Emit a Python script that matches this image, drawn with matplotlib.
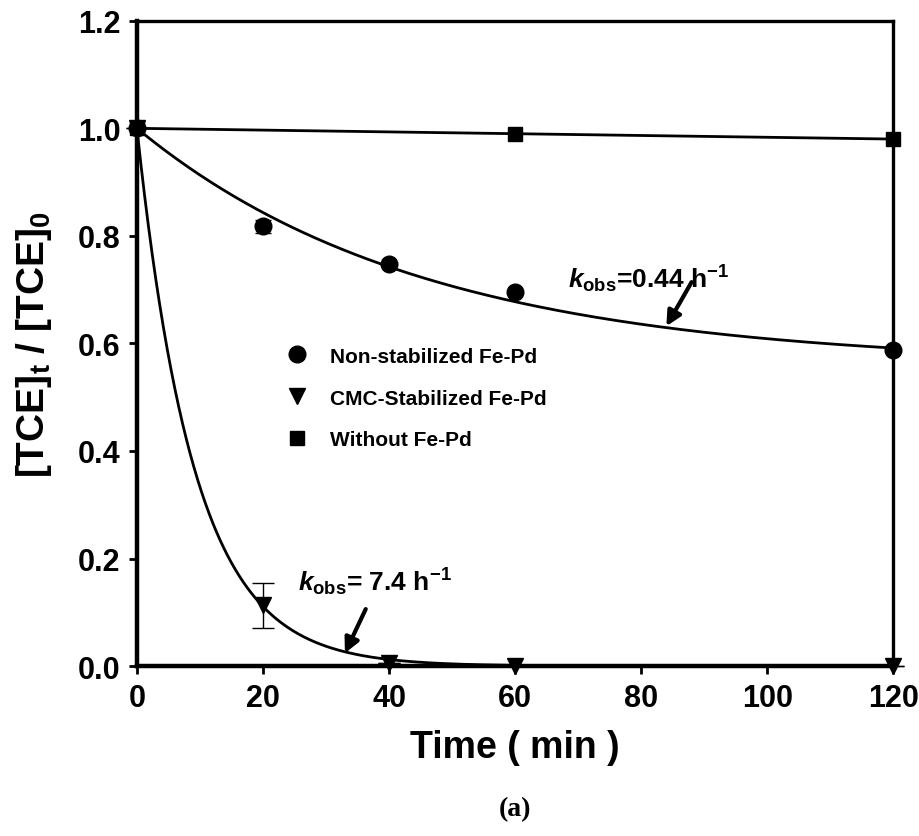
import numpy as np
import matplotlib
matplotlib.use("Agg")
import matplotlib.pyplot as plt
from matplotlib.lines import Line2D

# measured data
t_non = [0, 20, 40, 60, 120]
c_non = [1.0, 0.818, 0.748, 0.695, 0.588]
e_non = [0.0, 0.012, 0.0, 0.0, 0.0]

t_cmc = [0, 20, 40, 60, 120]
c_cmc = [1.0, 0.113, 0.005, 0.0, 0.0]
e_cmc = [0.0, 0.042, 0.0, 0.0, 0.0]

t_blank = [0, 60, 120]
c_blank = [1.0, 0.99, 0.98]

# fitted model parameters
non_plateau, non_k = 0.56, 0.022      # c = a + (1-a) exp(-k t)
cmc_k = 0.11                          # c = exp(-k t)
blank_slope = -0.02 / 120

plt.rcParams['font.family'] = ['Liberation Sans', 'DejaVu Sans']
plt.rcParams['font.weight'] = 'bold'
plt.rcParams['mathtext.fontset'] = 'custom'
plt.rcParams['mathtext.rm'] = 'Liberation Sans:bold'
plt.rcParams['mathtext.bf'] = 'Liberation Sans:bold'
plt.rcParams['mathtext.it'] = 'Liberation Sans:bold:italic'

fig = plt.figure(figsize=(9.19, 8.37), dpi=100)
ax = fig.add_axes([0.149, 0.203, 0.823, 0.771])

tt = np.linspace(0, 120, 400)
ax.plot(tt, non_plateau + (1 - non_plateau) * np.exp(-non_k * tt), color='black', lw=2)
ax.plot(tt, np.exp(-cmc_k * tt), color='black', lw=2)
ax.plot(tt, 1.0 + blank_slope * tt, color='black', lw=2)

ax.errorbar(t_non, c_non, yerr=e_non, fmt='o', color='black', ms=12,
            capsize=6, elinewidth=1, clip_on=False, zorder=5)
ax.errorbar(t_cmc, c_cmc, yerr=e_cmc, fmt='v', color='black', ms=12,
            capsize=8, elinewidth=1, clip_on=False, zorder=5)
ax.plot(t_blank, c_blank, 's', color='black', ms=10.5, clip_on=False, zorder=5)

ax.set_xlim(0, 120)
ax.set_ylim(0, 1.2)
ax.set_xticks([0, 20, 40, 60, 80, 100, 120])
ax.set_yticks([0.0, 0.2, 0.4, 0.6, 0.8, 1.0, 1.2])
ax.set_yticklabels(['0.0', '0.2', '0.4', '0.6', '0.8', '1.0', '1.2'])
ax.tick_params(direction='out', length=6, width=2, labelsize=22, pad=6)
for lab in ax.get_xticklabels() + ax.get_yticklabels():
    lab.set_fontweight('bold')

for s in ['left', 'bottom']:
    ax.spines[s].set_linewidth(3.2)
for s in ['top', 'right']:
    ax.spines[s].set_linewidth(2.4)

ax.set_xlabel('Time ( min )', fontsize=27, fontweight='bold', labelpad=12)
ax.set_ylabel(r'[TCE]$_\mathrm{t}$ / [TCE]$_\mathrm{0}$', fontsize=28,
              fontweight='bold')
ax.yaxis.set_label_coords(-0.11, 0.5)

arrow = dict(arrowstyle='-|>', color='black', lw=3, mutation_scale=22,
             shrinkA=0, shrinkB=0)
ax.text(68.4, 0.705, r'$k_\mathrm{obs}$=0.44 h$^\mathrm{-1}$', fontsize=19, fontweight='bold')
ax.annotate('', xy=(84, 0.632), xytext=(88, 0.714), arrowprops=arrow)
ax.text(25.5, 0.14, r'$k_\mathrm{obs}$= 7.4 h$^\mathrm{-1}$', fontsize=19, fontweight='bold')
ax.annotate('', xy=(33, 0.024), xytext=(36.3, 0.106), arrowprops=arrow)

handles = [
    Line2D([], [], marker='o', ls='none', color='black', ms=12),
    Line2D([], [], marker='v', ls='none', color='black', ms=12),
    Line2D([], [], marker='s', ls='none', color='black', ms=10.5),
]
labels = ['Non-stabilized Fe-Pd', 'CMC-Stabilized Fe-Pd', 'Without Fe-Pd']
leg = ax.legend(handles, labels, loc='upper left', bbox_to_anchor=(0.198, 0.495),
                frameon=False, fontsize=15, handlelength=1.0, handletextpad=1.1,
                labelspacing=1.1, borderaxespad=0, borderpad=0)
for txt in leg.get_texts():
    txt.set_fontweight('bold')

fig.text(0.56, 0.025, '(a)', fontsize=20, fontweight='bold',
         family=['Liberation Serif', 'DejaVu Serif'], ha='center')

fig.savefig('out.png', dpi=100)
